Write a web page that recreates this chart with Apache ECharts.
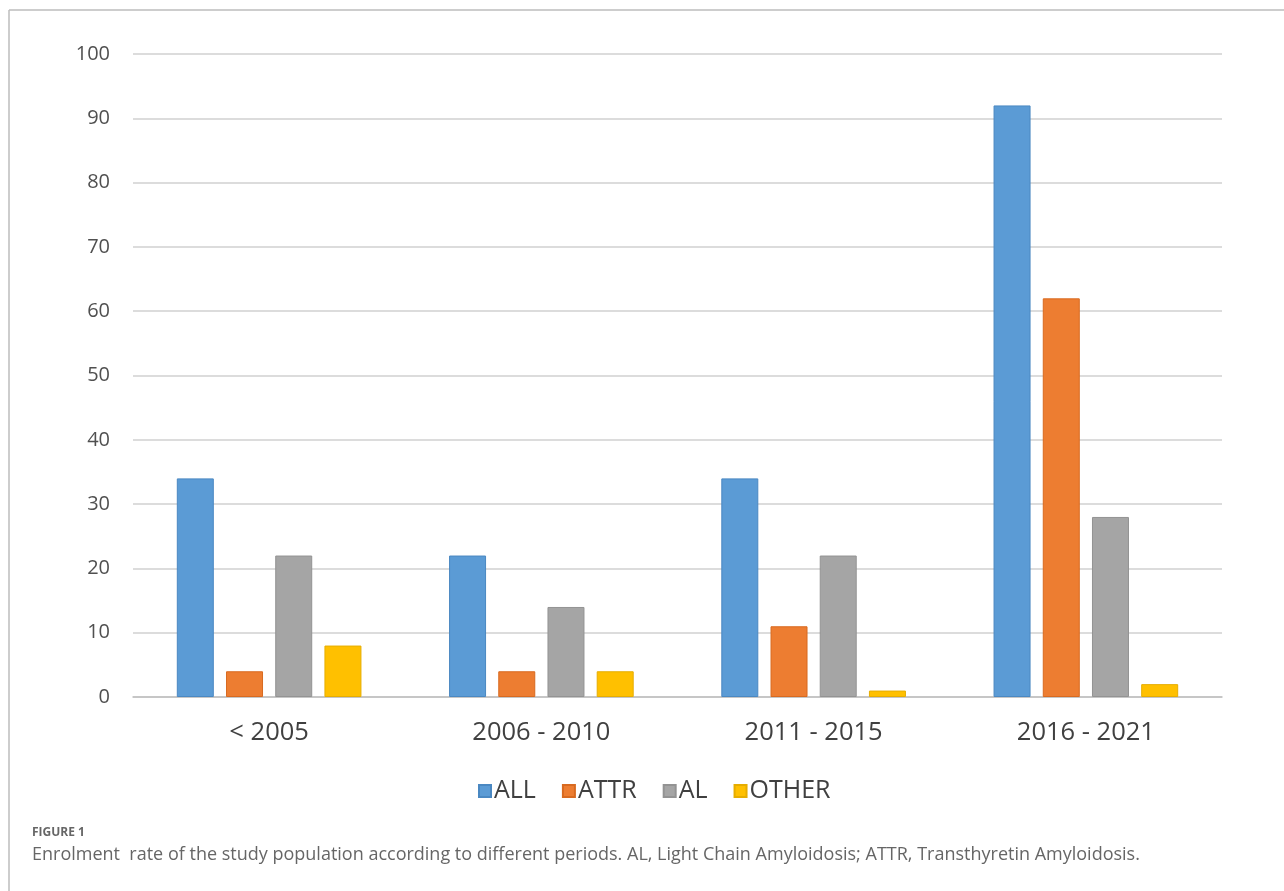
<!DOCTYPE html>
<html>
<head>
<meta charset="utf-8">
<script src="https://cdn.jsdelivr.net/npm/echarts@6/dist/echarts.min.js"></script>
<style>
  html, body { margin: 0; padding: 0; background: #fff; }
  #chart { width: 1284px; height: 891px; }
</style>
</head>
<body>
<div id="chart"></div>
<script>
// Enrolment by period and amyloidosis type
const periods = ['< 2005', '2006 - 2010', '2011 - 2015', '2016 - 2021'];
const allValues = [34, 22, 34, 92];
const attrValues = [4, 4, 11, 62];
const alValues = [22, 14, 22, 28];
const otherValues = [8, 4, 1, 2];
const seriesNames = ['ALL', 'ATTR', 'AL', 'OTHER'];
const yTicks = { min: 0, max: 100, interval: 10 };
const figureLabel = 'FIGURE 1';
const captionText = 'Enrolment  rate of the study population according to different periods. AL, Light Chain Amyloidosis; ATTR, Transthyretin Amyloidosis.';

const colors = ['#5b9bd5', '#ed7d31', '#a5a5a5', '#ffc000'];
const borderColors = ['#4a88c2', '#d86a20', '#939393', '#e6ad00'];
const seriesData = [allValues, attrValues, alValues, otherValues];

const chart = echarts.init(document.getElementById('chart'), null, { renderer: 'canvas' });

chart.setOption({
  animation: false,
  backgroundColor: '#ffffff',
  color: colors,
  grid: { left: 133, right: 62, top: 54, bottom: 194, containLabel: false },
  legend: {
    data: seriesNames,
    top: 771,
    left: 478,
    padding: [5, 0, 5, 0],
    icon: 'rect',
    itemWidth: 12,
    itemHeight: 12,
    itemGap: 26,
    textStyle: { fontFamily: 'Open Sans', fontSize: 25, lineHeight: 30, color: '#404040', padding: [0, 0, 0, -2] }
  },
  xAxis: {
    type: 'category',
    data: periods,
    axisLine: { show: true, lineStyle: { color: '#bfbfbf', width: 1.5 } },
    axisTick: { show: false },
    axisLabel: { fontFamily: 'Open Sans', fontSize: 25.5, color: '#404040', margin: 23 }
  },
  yAxis: {
    type: 'value',
    min: yTicks.min,
    max: yTicks.max,
    interval: yTicks.interval,
    axisLine: { show: false },
    axisTick: { show: false },
    axisLabel: { fontFamily: 'Open Sans', fontSize: 20, color: '#505050', margin: 23 },
    splitLine: { lineStyle: { color: '#d0d0d0', width: 1.5 } }
  },
  series: seriesNames.map((name, i) => ({
    name: name,
    type: 'bar',
    data: seriesData[i],
    barWidth: 37,
    barGap: '33%',
    itemStyle: { color: colors[i], borderColor: borderColors[i], borderWidth: 1 }
  })),
  graphic: [
    { type: 'line', shape: { x1: 9, y1: 10, x2: 1284, y2: 10 }, style: { stroke: '#bdbdbd', lineWidth: 1.5 } },
    { type: 'line', shape: { x1: 9, y1: 10, x2: 9, y2: 891 }, style: { stroke: '#bdbdbd', lineWidth: 1.5 } },
    { type: 'text', left: 32, top: 827, style: { text: figureLabel, font: 'bold 12px "Open Sans"', fill: '#666666' } },
    { type: 'text', left: 32, top: 846, style: { text: captionText, font: '18px "Open Sans"', fill: '#666666' } }
  ]
});
</script>
</body>
</html>
